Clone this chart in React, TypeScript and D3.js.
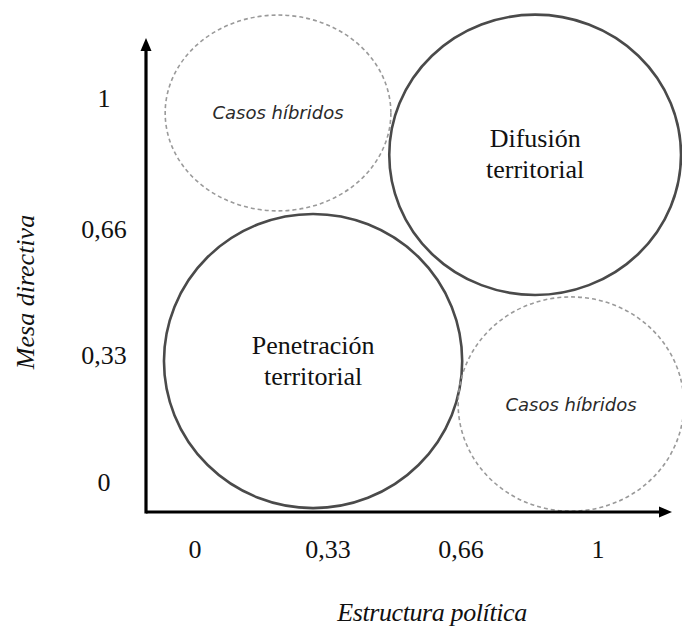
import React from "react";
import * as d3 from "d3";

// ---- data ----
const xTickValues = [0, 0.33, 0.66, 1];
const xTickLabels = ["0", "0,33", "0,66", "1"];
const yTickValues = [0, 0.33, 0.66, 1];
const yTickLabels = ["0", "0,33", "0,66", "1"];

const regionNames = ["Casos híbridos", "Difusión territorial", "Penetración territorial", "Casos híbridos"];
const regionCx = [0.206, 0.844, 0.293, 0.933];
const regionCy = [0.961, 0.852, 0.315, 0.203];
const regionRx = [0.28, 0.362, 0.37, 0.28];
const regionRy = [0.255, 0.365, 0.383, 0.279];
const regionKind = ["hybrid", "main", "main", "hybrid"];

const xTitle = "Estructura política";
const yTitle = "Mesa directiva";

const W = 682;
const H = 627;

export default function App() {
  const x = d3.scaleLinear().domain([0, 1]).range([195, 598]);
  const y = d3.scaleLinear().domain([0, 1]).range([482, 98]);
  const kx = 403; // px per unit
  const ky = 384;

  const axisX0 = 146;
  const axisY0 = 512;
  const axisXEnd = 672;
  const axisYEnd = 38;

  const serif = "'Liberation Serif', 'Times New Roman', serif";

  return (
    <svg
      width={W}
      height={H}
      style={{ position: "absolute", left: 0, top: 0, background: "#fff" }}
    >
      <rect width={W} height={H} fill="#fff" />
      {/* regions */}
      {regionNames.map((name, i) => {
        const cx = x(regionCx[i]);
        const cy = y(regionCy[i]);
        const hybrid = regionKind[i] === "hybrid";
        const words = hybrid ? [name] : name.split(" ");
        return (
          <g key={i}>
            <ellipse
              cx={cx}
              cy={cy}
              rx={regionRx[i] * kx}
              ry={regionRy[i] * ky}
              fill="none"
              stroke={hybrid ? "#9a9a9a" : "#4a4a4a"}
              strokeWidth={hybrid ? 1.6 : 2.6}
              strokeDasharray={hybrid ? "4 3" : undefined}
            />
            {hybrid ? (
              <text
                x={cx}
                y={cy}
                textAnchor="middle"
                dominantBaseline="central"
                fontFamily="'DejaVu Sans', Verdana, sans-serif"
                fontStyle="italic"
                fontSize={18}
                fill="#2a2a2a"
              >
                {name}
              </text>
            ) : (
              words.map((w, j) => (
                <text
                  key={j}
                  x={cx}
                  y={cy - 15.5 + j * 31 + 8}
                  textAnchor="middle"
                  fontFamily={serif}
                  fontSize={26}
                  fill="#111"
                >
                  {w}
                </text>
              ))
            )}
          </g>
        );
      })}

      {/* axes */}
      <line x1={axisX0} y1={axisY0} x2={axisXEnd - 10} y2={axisY0} stroke="#000" strokeWidth={3.2} />
      <line x1={axisX0} y1={axisY0 + 1.6} x2={axisX0} y2={axisYEnd + 10} stroke="#000" strokeWidth={3.2} />
      <polygon
        points={`${axisXEnd},${axisY0} ${axisXEnd - 13},${axisY0 - 5.5} ${axisXEnd - 13},${axisY0 + 5.5}`}
        fill="#000"
      />
      <polygon
        points={`${axisX0},${axisYEnd} ${axisX0 - 5.5},${axisYEnd + 13} ${axisX0 + 5.5},${axisYEnd + 13}`}
        fill="#000"
      />

      {/* tick labels */}
      {xTickValues.map((v, i) => (
        <text
          key={"xt" + i}
          x={x(v)}
          y={558}
          textAnchor="middle"
          fontFamily={serif}
          fontSize={26}
          fill="#111"
        >
          {xTickLabels[i]}
        </text>
      ))}
      {yTickValues.map((v, i) => (
        <text
          key={"yt" + i}
          x={104}
          y={y(v) + 9}
          textAnchor="middle"
          fontFamily={serif}
          fontSize={26}
          fill="#111"
        >
          {yTickLabels[i]}
        </text>
      ))}

      {/* titles */}
      <text
        x={432}
        y={621}
        textAnchor="middle"
        fontFamily={serif}
        fontStyle="italic"
        fontSize={26}
        letterSpacing={-0.4}
        fill="#111"
      >
        {xTitle}
      </text>
      <text
        transform={`translate(34, 292) rotate(-90)`}
        textAnchor="middle"
        fontFamily={serif}
        fontStyle="italic"
        fontSize={26}
        fill="#111"
      >
        {yTitle}
      </text>
    </svg>
  );
}
